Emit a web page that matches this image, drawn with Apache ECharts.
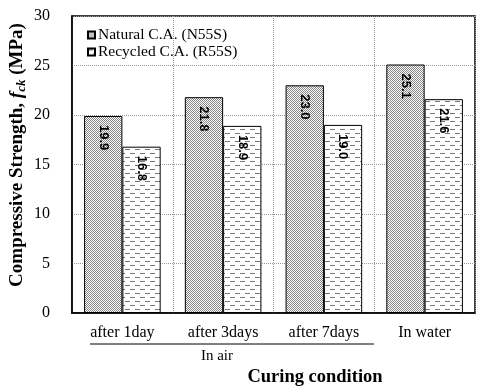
<!DOCTYPE html>
<html><head><meta charset="utf-8">
<script src="https://cdn.jsdelivr.net/npm/echarts@6/dist/echarts.min.js"></script>
<style>html,body{margin:0;padding:0;background:#fff}#c{width:492px;height:391px}</style>
</head><body><div id="c"></div>
<script>
const categories = ['after 1day', 'after 3days', 'after 7days', 'In water'];
const naturalValues = [19.9, 21.8, 23.0, 25.1];
const recycledValues = [16.8, 18.9, 19.0, 21.6];
const seriesNames = ['Natural C.A. (N55S)', 'Recycled C.A. (R55S)'];
const yTicks = [0, 5, 10, 15, 20, 25, 30];

function makeChecker() {
  const c = document.createElement('canvas'); c.width = 4; c.height = 4;
  const g = c.getContext('2d');
  g.fillStyle = '#ffffff'; g.fillRect(0, 0, 4, 4);
  g.fillStyle = '#858585';
  for (let y = 0; y < 4; y++) for (let x = 0; x < 4; x++) if ((x + y) % 2 === 0) g.fillRect(x, y, 1, 1);
  return c;
}
function makeDash() {
  const c = document.createElement('canvas'); c.width = 10; c.height = 8;
  const g = c.getContext('2d');
  g.fillStyle = '#ffffff'; g.fillRect(0, 0, 10, 8);
  g.fillStyle = '#777777';
  g.fillRect(0, 1, 5, 1);
  g.fillRect(5, 5, 5, 1);
  return c;
}
const checker = makeChecker();
const dash = makeDash();

const chart = echarts.init(document.getElementById('c'), null, {renderer: 'canvas'});
const serif = 'Liberation Serif';
const labelCfg = {
  show: true, position: 'insideTop', distance: 9, rotate: -90,
  align: 'left', verticalAlign: 'middle',
  fontFamily: 'Liberation Sans', fontWeight: 'bold', fontSize: 13, color: '#000',
  formatter: p => p.value.toFixed(1)
};
chart.setOption({
  animation: false,
  grid: {left: 72, right: 17, top: 16, bottom: 78, show: true, borderColor: '#000', borderWidth: 1.5, containLabel: false},
  legend: {
    orient: 'vertical', left: 82, top: 22, itemGap: 1, itemWidth: 7, itemHeight: 7, icon: 'rect',
    textStyle: {fontFamily: serif, fontSize: 15.5, color: '#000', padding: [0, 0, 0, -2]},
    data: seriesNames
  },
  xAxis: {
    type: 'category', data: categories,
    axisLine: {show: true, lineStyle: {color: '#000', width: 1.5}},
    axisTick: {show: false},
    axisLabel: {fontFamily: serif, fontSize: 16, color: '#000', margin: 12},
    splitLine: {show: true, lineStyle: {color: '#999', type: 'dotted', width: 1}}
  },
  yAxis: {
    type: 'value', min: yTicks[0], max: yTicks[yTicks.length - 1], interval: 5,
    axisLine: {show: true, lineStyle: {color: '#000', width: 1.5}},
    axisTick: {show: false},
    axisLabel: {fontFamily: serif, fontSize: 16, color: '#000', margin: 22},
    splitLine: {show: true, lineStyle: {color: '#999', type: 'dotted', width: 1}}
  },
  series: [
    {
      name: seriesNames[0], type: 'bar', data: naturalValues, barWidth: '38%', barGap: '0%',
      itemStyle: {color: {image: checker, repeat: 'repeat'}, borderColor: '#000', borderWidth: 1},
      label: labelCfg
    },
    {
      name: seriesNames[1], type: 'bar', data: recycledValues, barWidth: '38%', barGap: '0%',
      itemStyle: {color: {image: dash, repeat: 'repeat'}, borderColor: '#000', borderWidth: 1},
      label: labelCfg
    }
  ],
  graphic: [
    {type: 'line', shape: {x1: 90, y1: 344, x2: 374, y2: 344}, style: {stroke: '#000', lineWidth: 1}},
    {type: 'text', x: 217, y: 356, style: {text: 'In air', fontFamily: serif, fontSize: 15, fill: '#000', textAlign: 'center', textVerticalAlign: 'middle'}},
    {type: 'text', x: 315, y: 377, style: {text: 'Curing condition', fontFamily: serif, fontWeight: 'bold', fontSize: 18.5, fill: '#000', textAlign: 'center', textVerticalAlign: 'middle'}},
    {type: 'text', x: 17, y: 155, rotation: Math.PI / 2, style: {
      text: '{b|Compressive Strength, }{i|f}{s|ck}{b| (MPa)}',
      align: 'center', verticalAlign: 'middle',
      rich: {
        b: {fontFamily: serif, fontWeight: 'bold', fontSize: 19, fill: '#000'},
        i: {fontFamily: serif, fontWeight: 'bold', fontStyle: 'italic', fontSize: 19, fill: '#000'},
        s: {fontFamily: serif, fontWeight: 'bold', fontStyle: 'italic', fontSize: 13, fill: '#000', padding: [9, 0, 0, 0]}
      }
    }}
  ]
});
</script></body></html>
